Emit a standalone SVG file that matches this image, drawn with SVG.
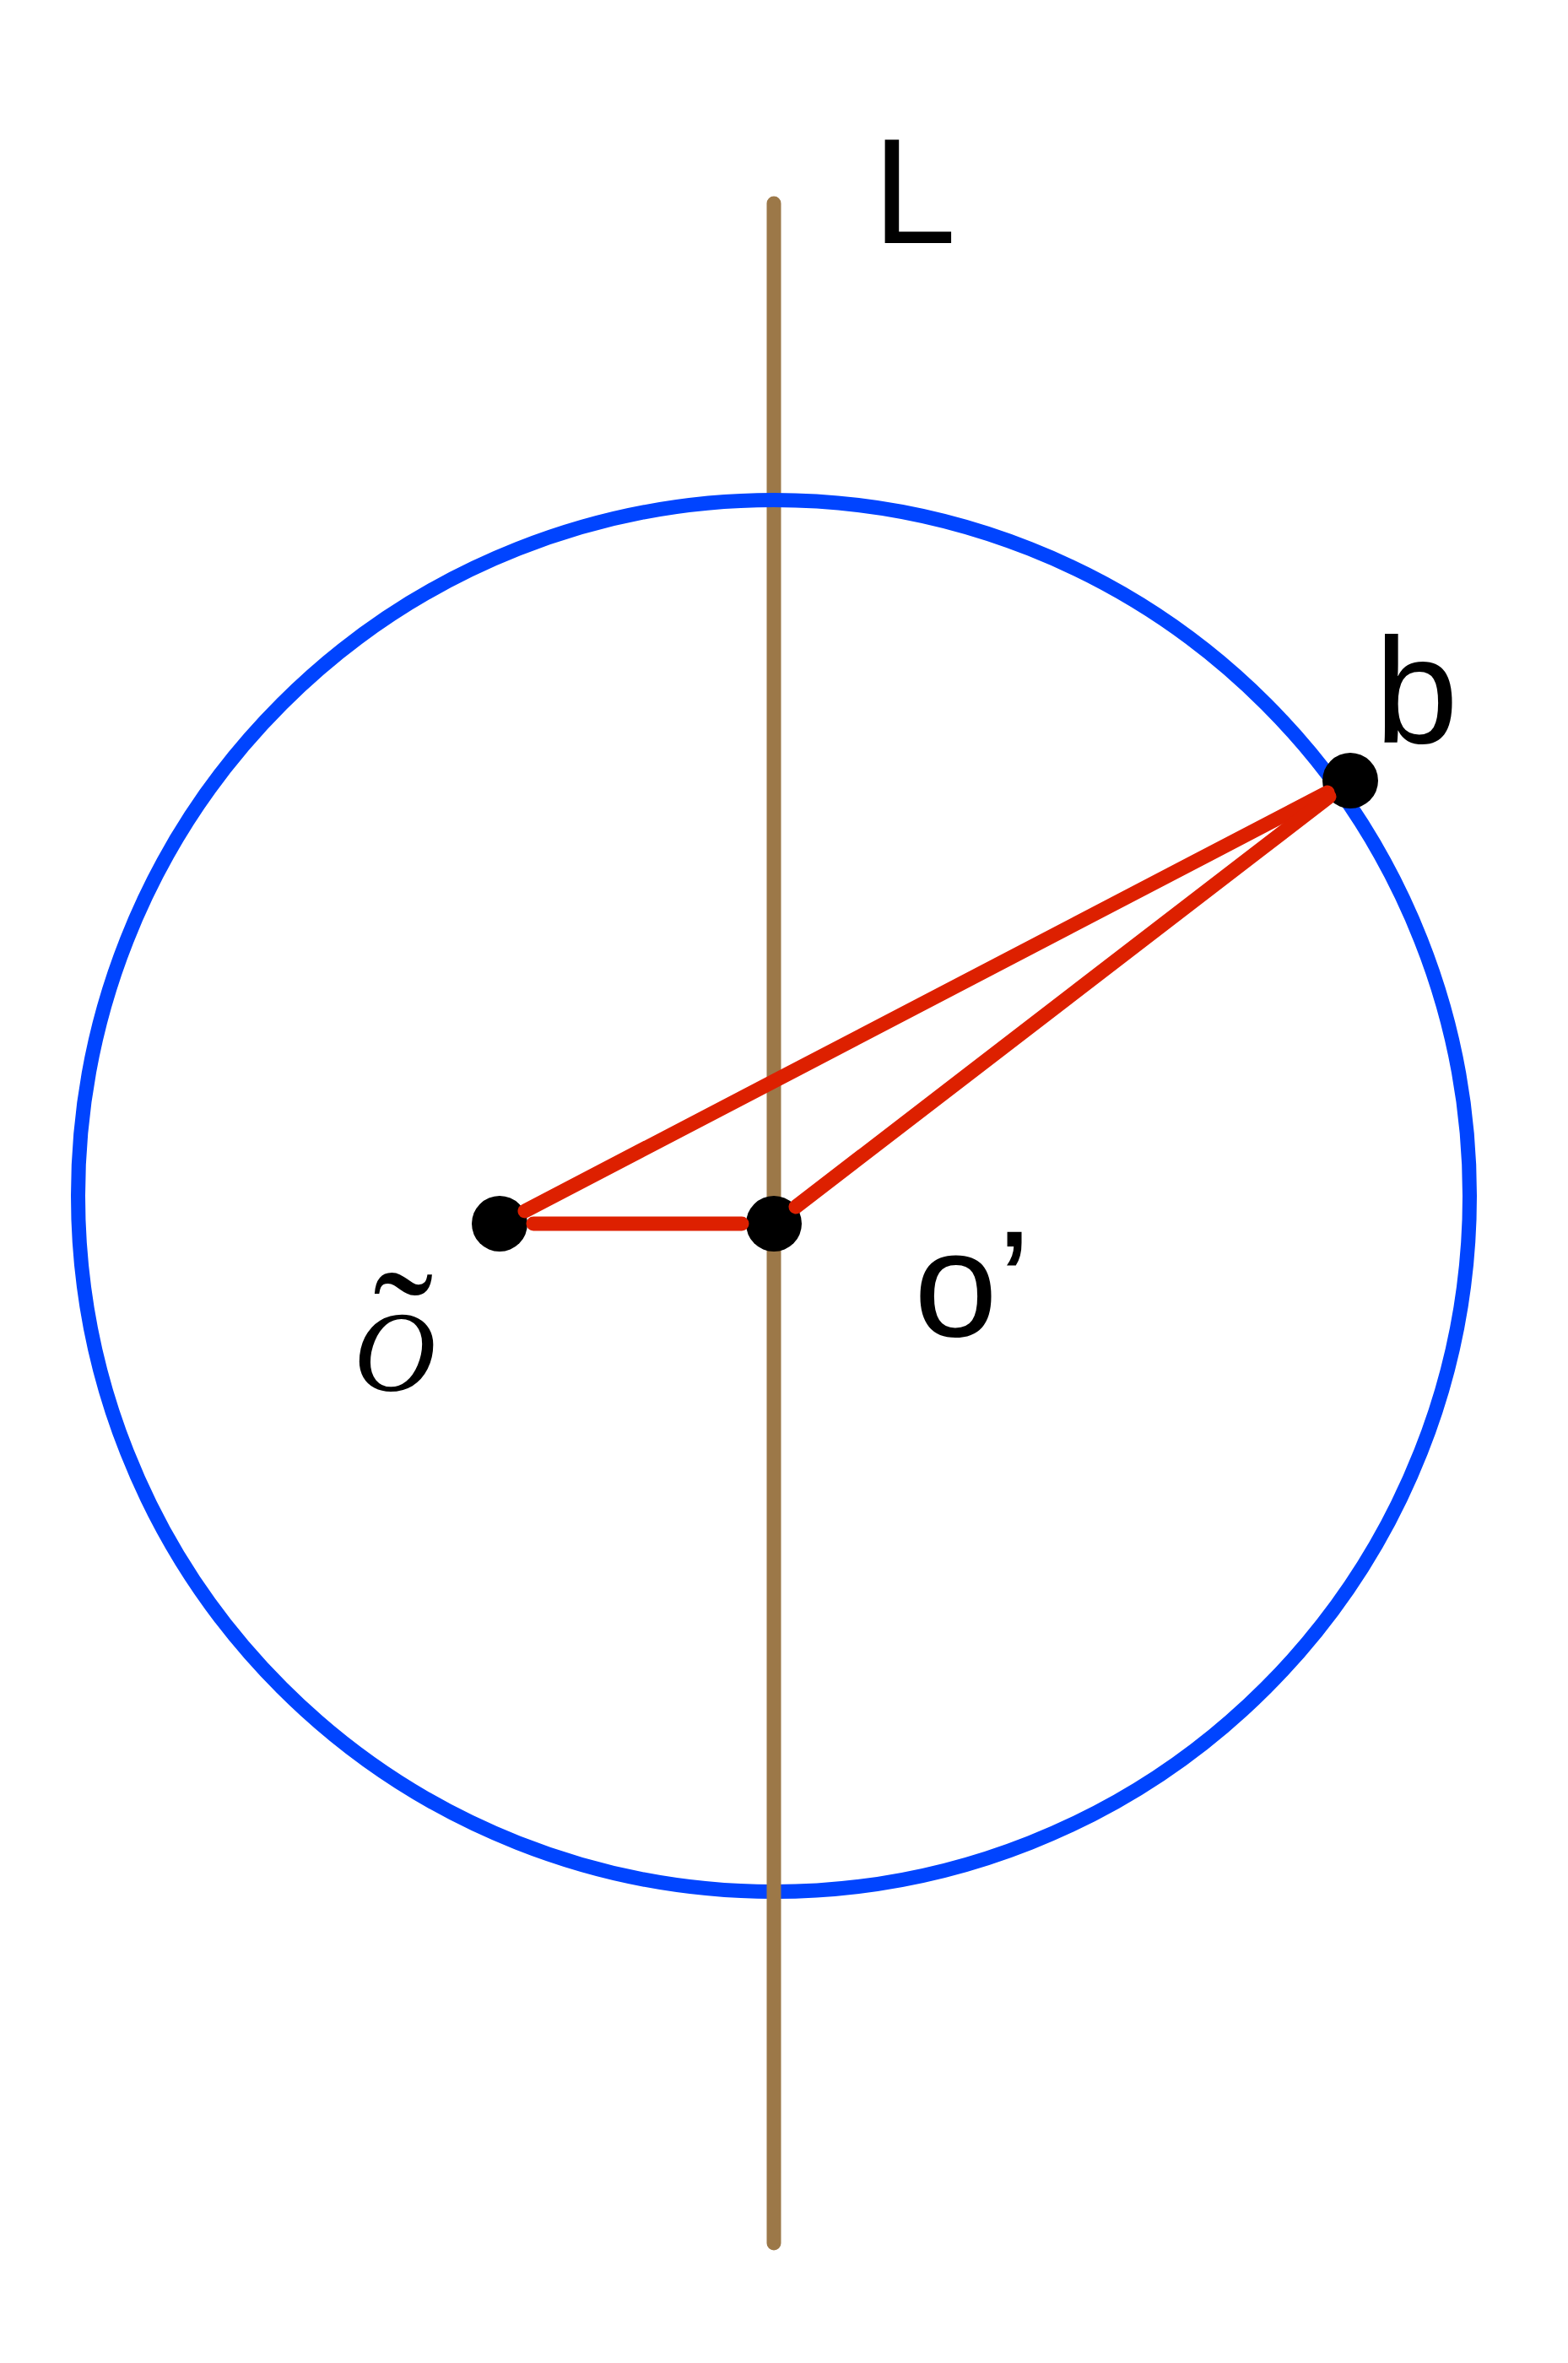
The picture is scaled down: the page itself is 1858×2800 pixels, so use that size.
<svg xmlns="http://www.w3.org/2000/svg" width="1858" height="2800" viewBox="0 0 1858 2800">
<style>
.circ{fill:none;stroke:#0044FF;stroke-width:17}
.axis{stroke:#9C7848;stroke-width:17;stroke-linecap:round}
.seg{stroke:#DD2000;stroke-width:17;stroke-linecap:round;fill:none}
.dot{fill:#000000}
.lbl{font-family:"Liberation Sans",Arial,sans-serif;font-size:178px;fill:#000000}
.math{font-family:"Liberation Serif","Times New Roman",serif;font-style:italic;font-size:135px;fill:#000000}
.acc{font-style:normal;font-size:215px}
</style>
<rect width="1858" height="2800" fill="#FFFFFF"/>
<g id="circle-back">
<path class="circ" d="M 92.5 1417 A 824.5 824.5 0 0 0 1741.5 1417"/>
</g>
<g id="axis-L">
<line class="axis" x1="917" y1="241" x2="917" y2="2658"/>
<text class="lbl" x="1034" y="288">L</text>
</g>
<g id="circle-front">
<path class="circ" d="M 92.5 1417 A 824.5 824.5 0 0 1 1741.5 1417"/>
</g>
<g id="node-otilde">
<circle class="dot" cx="592" cy="1450" r="33"/>
<text class="math" x="419" y="1648">O<tspan class="acc" x="442" y="1652">˜</tspan></text>
</g>
<g id="node-oprime">
<circle class="dot" cx="917" cy="1450" r="33"/>
<text class="lbl" x="1083" y="1583">o’</text>
</g>
<g id="node-b">
<circle class="dot" cx="1600" cy="925" r="33"/>
<text class="lbl" x="1629" y="880">b</text>
</g>
<g id="connectors">
<line class="seg" x1="632" y1="1450" x2="879" y2="1450"/>
<line class="seg" x1="622" y1="1435" x2="1573" y2="939"/>
<line class="seg" x1="943" y1="1430" x2="1575" y2="944"/>
</g>
</svg>
